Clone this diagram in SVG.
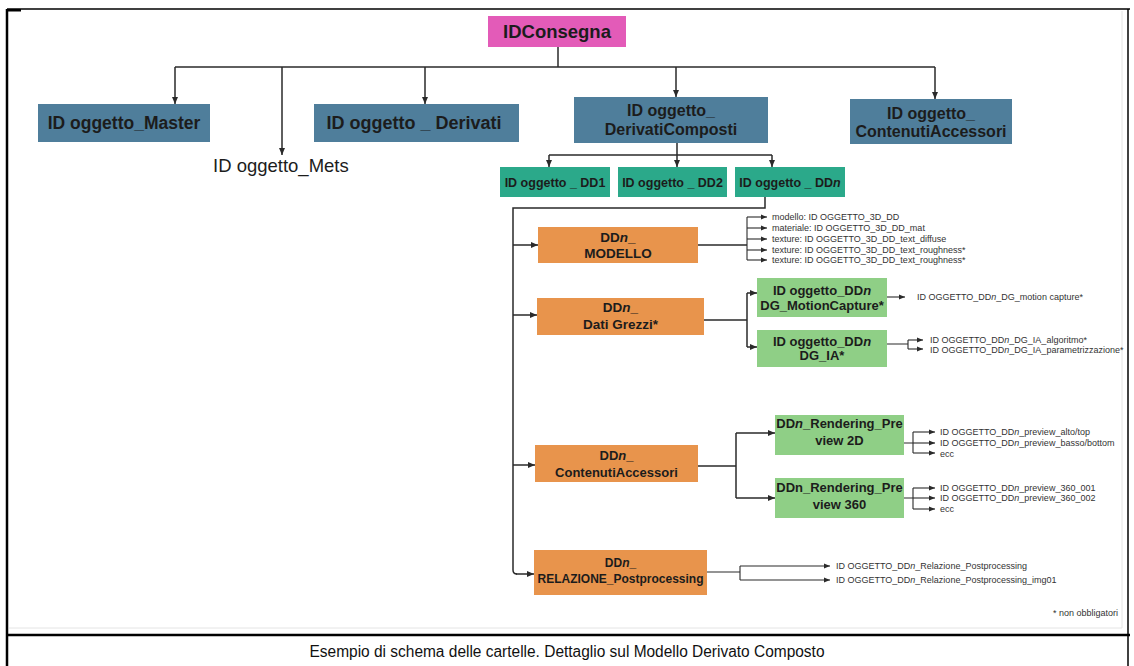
<svg xmlns="http://www.w3.org/2000/svg" width="1134" height="666" viewBox="0 0 1134 666">
<style>
.frame{stroke:#000;fill:none}
.ln{stroke:#2a2a2a;stroke-width:1.5;fill:none}
.lt{stroke:#2a2a2a;stroke-width:1.1;fill:none}
.arr{marker-end:url(#ah)}
.arrs{marker-end:url(#ahs)}
.pink{fill:#e35bb8}
.blue{fill:#4f7e9b}
.teal{fill:#2ba98a}
.orange{fill:#e8944c}
.green{fill:#8fcf86}
.lb{font-family:"Liberation Sans",Arial,sans-serif;font-weight:bold;fill:#1c1c1c;text-anchor:middle}
.sm{font-family:"Liberation Sans",Arial,sans-serif;font-size:9px;fill:#333}
.i{font-style:italic}
</style>
<defs>
<marker id="ah" markerUnits="userSpaceOnUse" markerWidth="7" markerHeight="7" refX="7" refY="3.5" orient="auto"><path d="M0,0.5 L7,3.5 L0,6.5 z" fill="#2a2a2a"/></marker>
<marker id="ahs" markerUnits="userSpaceOnUse" markerWidth="6" markerHeight="6" refX="6" refY="3" orient="auto"><path d="M0,0.5 L6,3 L0,5.5 z" fill="#2a2a2a"/></marker>
</defs>
<rect width="1134" height="666" fill="#fff"/>
<g id="frame">
<line class="frame" x1="7" y1="9" x2="1130" y2="9" stroke-width="1.5"/>
<line class="frame" x1="7" y1="9" x2="7" y2="666" stroke-width="2.5"/>
<line class="frame" x1="1128" y1="9" x2="1128" y2="666" stroke-width="1.5"/>
<line class="frame" x1="7" y1="635" x2="1130" y2="635" stroke-width="2.5"/>
<rect x="7" y="9" width="14" height="2.5" fill="#000"/>
<line x1="9" y1="628" x2="1122" y2="628" stroke="#e4e4e4" stroke-width="1"/>
<line x1="1122" y1="11" x2="1122" y2="628" stroke="#e4e4e4" stroke-width="1"/>
</g>
<g id="connectors">
<path class="ln" d="M558,47 V67"/>
<path class="ln" d="M175,67 H935"/>
<path class="ln arr" d="M175,67 V104"/>
<path class="ln arr" d="M282,67 V155"/>
<path class="ln arr" d="M425,67 V104"/>
<path class="ln arr" d="M676,67 V97"/>
<path class="ln arr" d="M935,67 V99"/>
<path class="ln" d="M677,143 V155"/>
<path class="ln" d="M549,155 H772"/>
<path class="ln arr" d="M549,155 V167"/>
<path class="ln arr" d="M677,155 V167"/>
<path class="ln arr" d="M772,155 V167"/>
<path class="ln" d="M765,197 V208 H513 V570 Q513,574 517,574"/>
<path class="ln arr" d="M513,245 H538"/>
<path class="ln arr" d="M513,315 H537"/>
<path class="ln arr" d="M513,465 H535"/>
<path class="ln arr" d="M516,574 H534"/>
<path class="ln" d="M698,245 H747"/>
<path class="lt" d="M747,217 V260"/>
<path class="lt arrs" d="M747,217 H767"/>
<path class="lt arrs" d="M747,228 H767"/>
<path class="lt arrs" d="M747,239 H767"/>
<path class="lt arrs" d="M747,250 H767"/>
<path class="lt arrs" d="M747,260 H767"/>
<path class="ln" d="M704,320 H747"/>
<path class="ln" d="M747,293 V347"/>
<path class="ln arr" d="M747,293 H757"/>
<path class="ln arr" d="M747,347 H757"/>
<path class="lt arrs" d="M887,297 H905"/>
<path class="lt" d="M887,344 H908 M908,340 V349"/>
<path class="lt arrs" d="M908,340 H923"/>
<path class="lt arrs" d="M908,349 H923"/>
<path class="ln" d="M698,466 H736"/>
<path class="ln" d="M736,433 V498"/>
<path class="ln arr" d="M736,433 H775"/>
<path class="ln arr" d="M736,498 H775"/>
<path class="lt" d="M904,443 H913 M913,432 V453"/>
<path class="lt arrs" d="M913,432 H935"/>
<path class="lt arrs" d="M913,443 H935"/>
<path class="lt arrs" d="M913,453 H935"/>
<path class="lt" d="M904,498 H913 M913,488 V509"/>
<path class="lt arrs" d="M913,488 H935"/>
<path class="lt arrs" d="M913,498 H935"/>
<path class="lt arrs" d="M913,509 H935"/>
<path class="lt" d="M707,572 H740 M740,566 V580"/>
<path class="lt arrs" d="M740,566 H830"/>
<path class="lt arrs" d="M740,580 H830"/>
</g>
<g id="n-idconsegna">
<rect class="pink" x="488" y="16" width="138" height="31"/>
<text class="lb" x="557" y="38" font-size="18.5">IDConsegna</text>
</g>
<g id="n-master">
<rect class="blue" x="38" y="104" width="172" height="38"/>
<text class="lb" x="124" y="129" font-size="17.5">ID oggetto_Master</text>
</g>
<g id="n-mets">
<text x="213" y="172" font-family="Liberation Sans,Arial,sans-serif" font-size="18.5" fill="#1c1c1c">ID oggetto_Mets</text>
</g>
<g id="n-derivati">
<rect class="blue" x="314" y="104" width="205" height="38"/>
<text class="lb" x="414" y="129" font-size="18">ID oggetto _ Derivati</text>
</g>
<g id="n-derivaticomposti">
<rect class="blue" x="574" y="97" width="194" height="46"/>
<text class="lb" x="671" y="116" font-size="16">ID oggetto_</text>
<text class="lb" x="671" y="135" font-size="16">DerivatiComposti</text>
</g>
<g id="n-contenutiaccessori">
<rect class="blue" x="850" y="99" width="162" height="45"/>
<text class="lb" x="931" y="119" font-size="16">ID oggetto_</text>
<text class="lb" x="931" y="137" font-size="16">ContenutiAccessori</text>
</g>
<g id="n-dd1">
<rect class="teal" x="500" y="167" width="110" height="30"/>
<text class="lb" x="555" y="186.5" font-size="12.5">ID oggetto _ DD1</text>
</g>
<g id="n-dd2">
<rect class="teal" x="618" y="167" width="109" height="30"/>
<text class="lb" x="672.5" y="186.5" font-size="12.5">ID oggetto _ DD2</text>
</g>
<g id="n-ddn">
<rect class="teal" x="735" y="167" width="110" height="30"/>
<text class="lb" x="790" y="186.5" font-size="12.5">ID oggetto _ DD<tspan class="i">n</tspan></text>
</g>
<g id="n-modello">
<rect class="orange" x="538" y="227" width="160" height="36"/>
<text class="lb" x="618" y="242" font-size="13.5">DD<tspan class="i">n</tspan>_</text>
<text class="lb" x="618" y="258" font-size="13.5">MODELLO</text>
<text class="sm" x="772" y="220">modello: ID OGGETTO_3D_DD</text>
<text class="sm" x="772" y="231">materiale: ID OGGETTO_3D_DD_mat</text>
<text class="sm" x="772" y="242">texture: ID OGGETTO_3D_DD_text_diffuse</text>
<text class="sm" x="772" y="253">texture: ID OGGETTO_3D_DD_text_roughness*</text>
<text class="sm" x="772" y="263">texture: ID OGGETTO_3D_DD_text_roughness*</text>
</g>
<g id="n-datigrezzi">
<rect class="orange" x="537" y="298" width="167" height="37"/>
<text class="lb" x="620.5" y="312" font-size="13.5">DD<tspan class="i">n</tspan>_</text>
<text class="lb" x="620.5" y="329" font-size="13.5">Dati Grezzi*</text>
</g>
<g id="n-motioncapture">
<rect class="green" x="757" y="278" width="130" height="39"/>
<text class="lb" x="822" y="294.5" font-size="13">ID oggetto_DD<tspan class="i">n</tspan></text>
<text class="lb" x="822" y="310" font-size="13">DG_MotionCapture*</text>
<text class="sm" x="917" y="300">ID OGGETTO_DD<tspan class="i">n</tspan>_DG_motion capture*</text>
</g>
<g id="n-dgia">
<rect class="green" x="757" y="330" width="130" height="37"/>
<text class="lb" x="822" y="345.5" font-size="13">ID oggetto_DD<tspan class="i">n</tspan></text>
<text class="lb" x="822" y="360" font-size="13">DG_IA*</text>
<text class="sm" x="930" y="343" font-size="8.8">ID OGGETTO_DD<tspan class="i">n</tspan>_DG_IA_algoritmo*</text>
<text class="sm" x="930" y="353" font-size="8.8">ID OGGETTO_DD<tspan class="i">n</tspan>_DG_IA_parametrizzazione*</text>
</g>
<g id="n-contenuti">
<rect class="orange" x="535" y="445" width="163" height="37"/>
<text class="lb" x="616.5" y="459.5" font-size="13">DD<tspan class="i">n</tspan>_</text>
<text class="lb" x="616.5" y="476.5" font-size="13">ContenutiAccessori</text>
</g>
<g id="n-render2d">
<rect class="green" x="775" y="415" width="129" height="40"/>
<text class="lb" x="839.5" y="428" font-size="13">DD<tspan class="i">n</tspan>_Rendering_Pre</text>
<text class="lb" x="839.5" y="445" font-size="13">view 2D</text>
<text class="sm" x="940" y="435">ID OGGETTO_DD<tspan class="i">n</tspan>_preview_alto/top</text>
<text class="sm" x="940" y="446">ID OGGETTO_DD<tspan class="i">n</tspan>_preview_basso/bottom</text>
<text class="sm" x="940" y="457">ecc</text>
</g>
<g id="n-render360">
<rect class="green" x="775" y="478" width="129" height="40"/>
<text class="lb" x="839.5" y="492" font-size="13">DDn_Rendering_Pre</text>
<text class="lb" x="839.5" y="509" font-size="13">view 360</text>
<text class="sm" x="940" y="491">ID OGGETTO_DD<tspan class="i">n</tspan>_preview_360_001</text>
<text class="sm" x="940" y="501">ID OGGETTO_DD<tspan class="i">n</tspan>_preview_360_002</text>
<text class="sm" x="940" y="512">ecc</text>
</g>
<g id="n-relazione">
<rect class="orange" x="534" y="550" width="173" height="45"/>
<text class="lb" x="620.5" y="567" font-size="12">DD<tspan class="i">n</tspan>_</text>
<text class="lb" x="620.5" y="582.5" font-size="12">RELAZIONE_Postprocessing</text>
<text class="sm" x="836" y="569">ID OGGETTO_DD<tspan class="i">n</tspan>_Relazione_Postprocessing</text>
<text class="sm" x="836" y="583">ID OGGETTO_DD<tspan class="i">n</tspan>_Relazione_Postprocessing_img01</text>
</g>
<g id="note">
<text class="sm" x="1118" y="616" font-size="7" text-anchor="end">* non obbligatori</text>
</g>
<g id="caption">
<text x="567" y="657" font-family="Liberation Sans,Arial,sans-serif" font-size="16" fill="#111" text-anchor="middle" textLength="515" lengthAdjust="spacingAndGlyphs">Esempio di schema delle cartelle. Dettaglio sul Modello Derivato Composto</text>
</g>
</svg>
